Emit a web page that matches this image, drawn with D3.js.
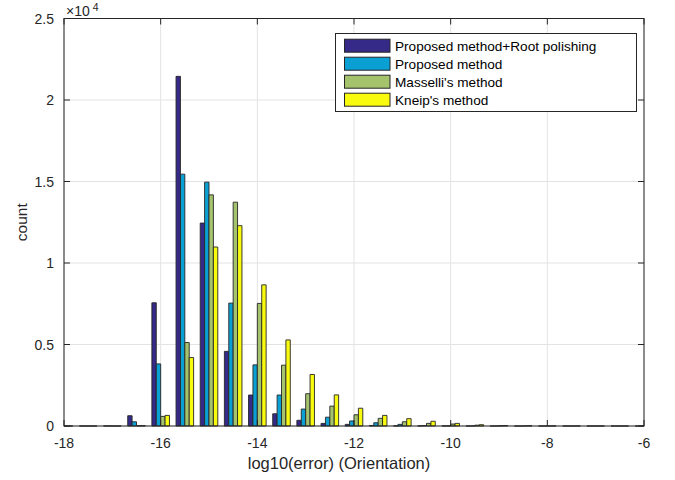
<!DOCTYPE html>
<html><head><meta charset="utf-8">
<script src="https://cdn.jsdelivr.net/npm/d3@7"></script>
<style>body{margin:0;background:#fff;} text{font-family:"Liberation Sans",Arial,sans-serif;}</style>
</head><body><svg id="c" width="675" height="480"></svg>
<script>
const binCenters = [-18,-17.5,-17,-16.5,-16,-15.5,-15,-14.5,-14,-13.5,-13,-12.5,-12,-11.5,-11,-10.5,-10,-9.5,-9,-8.5,-8,-7.5,-7,-6.5,-6];
const seriesNames = ["Proposed method+Root polishing","Proposed method","Masselli's method","Kneip's method"];
const rootPolish = [0,3,5,630,7560,21450,12450,4580,1900,750,350,160,100,30,10,5,3,2,0,0,0,0,0,0,0];
const proposed   = [0,0,2,260,3810,15450,14960,7540,3750,1900,1040,540,310,200,100,30,10,5,2,0,0,0,0,0,0];
const masselli   = [0,0,0,20,590,5120,14180,13730,7520,3730,1980,1220,690,470,260,160,120,50,20,10,3,0,0,0,0];
const kneip      = [0,0,0,20,650,4200,10980,12290,8660,5280,3160,1910,1090,650,450,290,160,80,30,15,5,2,0,0,0];
const xTicks = [-18,-16,-14,-12,-10,-8,-6];
const yTicks = [0,5000,10000,15000,20000,25000];
const colors = ["#352a87","#0ba0d3","#a5c26c","#f9fb0e"];
const series = [rootPolish, proposed, masselli, kneip];

const svg = d3.select("#c");
const L=64, R=644, T=18.5, B=426;
const x = d3.scaleLinear().domain([-18,-6]).range([L,R]);
const y = d3.scaleLinear().domain([0,25000]).range([B,T]);
const step = x(-17.5)-x(-18);
const groupW = step*4/5.5;
const barW = groupW/4;

// grid
const g = svg.append("g");
g.selectAll(".gx").data(xTicks).join("line").attr("x1",d=>x(d)).attr("x2",d=>x(d)).attr("y1",T).attr("y2",B).attr("stroke","#e3e3e3");
g.selectAll(".gy").data(yTicks).join("line").attr("x1",L).attr("x2",R).attr("y1",d=>y(d)).attr("y2",d=>y(d)).attr("stroke","#e3e3e3");

svg.append("defs").append("clipPath").attr("id","clip").append("rect").attr("x",L).attr("y",T-1).attr("width",R-L).attr("height",B-T+2);
const bars = svg.append("g").attr("clip-path","url(#clip)");
series.forEach((s,si)=>{
  bars.selectAll(".b"+si).data(binCenters.map((c,i)=>({c,v:s[i]}))).join("path")
    .attr("d",d=>{const x0=x(d.c)-groupW/2+si*barW, x1=x0+barW, y0=y(0), y1=y(d.v);
      return `M${x0},${y0}V${y1}H${x1}V${y0}Z`;})
    .attr("fill",colors[si]).attr("stroke","#262626").attr("stroke-width",0.9);
});

// axes box
const ax = svg.append("g").attr("stroke","#262626").attr("fill","none");
ax.append("rect").attr("x",L).attr("y",T).attr("width",R-L).attr("height",B-T).attr("stroke-width",1);
xTicks.forEach(t=>{ax.append("line").attr("x1",x(t)).attr("x2",x(t)).attr("y1",B).attr("y2",B-6);
  ax.append("line").attr("x1",x(t)).attr("x2",x(t)).attr("y1",T).attr("y2",T+6);});
yTicks.forEach(t=>{ax.append("line").attr("x1",L).attr("x2",L+6).attr("y1",y(t)).attr("y2",y(t));
  ax.append("line").attr("x1",R).attr("x2",R-6).attr("y1",y(t)).attr("y2",y(t));});

const fmtY = d=> d/1e4;
svg.selectAll(".xt").data(xTicks).join("text").attr("x",d=>x(d)).attr("y",B+22).attr("text-anchor","middle")
  .attr("font-size",14).attr("fill","#262626").text(d=>d);
svg.selectAll(".yt").data(yTicks).join("text").attr("x",L-10).attr("y",d=>y(d)+5).attr("text-anchor","end")
  .attr("font-size",14).attr("fill","#262626").text(fmtY);
const ex = svg.append("text").attr("x",L+2).attr("y",15.5).attr("font-size",14).attr("fill","#262626");
ex.append("tspan").text("\u00d710");
ex.append("tspan").attr("dy",-5).attr("font-size",10.5).text(" 4");
svg.append("text").attr("x",339).attr("y",469).attr("text-anchor","middle").attr("font-size",16.5).attr("fill","#262626").text("log10(error) (Orientation)");
svg.append("text").attr("transform",`translate(27,${(T+B)/2}) rotate(-90)`).attr("text-anchor","middle").attr("font-size",15.5).attr("fill","#262626").text("count");

// legend
const lg = svg.append("g");
lg.append("rect").attr("x",335.5).attr("y",33.5).attr("width",301).attr("height",78).attr("fill","#fff").attr("stroke","#262626");
seriesNames.forEach((n,i)=>{
  const cy = 45.7 + i*18;
  lg.append("rect").attr("x",344.5).attr("y",cy-6.5).attr("width",45.5).attr("height",13).attr("fill",colors[i]).attr("stroke","#262626");
  lg.append("text").attr("x",395).attr("y",cy+5).attr("font-size",13.6).attr("fill","#000").text(n);
});
</script></body></html>
